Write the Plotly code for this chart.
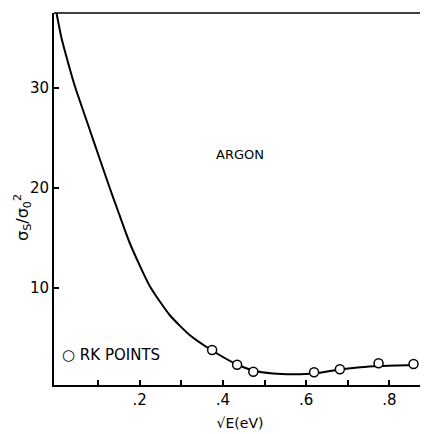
import plotly.graph_objects as go

# Smooth curve
curve_x = [0.0, 0.012, 0.028, 0.044, 0.076, 0.104, 0.128, 0.147, 0.176, 0.224, 0.272,
           0.32, 0.374, 0.434, 0.473, 0.52, 0.57, 0.62, 0.681, 0.73, 0.78, 0.858]
curve_y = [37.5, 35.0, 32.5, 30.2, 26.3, 22.9, 20.0, 17.8, 14.5, 10.2, 7.3,
           5.3, 3.75, 2.35, 1.75, 1.45, 1.38, 1.45, 1.85, 2.08, 2.2, 2.3]

# RK points
rk_x = [0.374, 0.434, 0.473, 0.619, 0.681, 0.774, 0.858]
rk_y = [3.8, 2.33, 1.63, 1.57, 1.87, 2.47, 2.4]

x_tickvals = [0.1, 0.2, 0.3, 0.4, 0.5, 0.6, 0.7, 0.8]
x_ticktext = ["", ".2", "", ".4", "", ".6", "", ".8"]
y_tickvals = [10, 20, 30]
y_ticktext = ["10", "20", "30"]

FONT = "DejaVu Sans"

# The page body has an 8px default margin, so the figure is sized to fit inside it.
W, H = 420, 426
ML, MR, MT, MB = 46, 2, 5, 49

fig = go.Figure()
fig.add_trace(go.Scatter(x=curve_x, y=curve_y, mode="lines",
                         line=dict(color="black", width=2, shape="spline", smoothing=0.6),
                         showlegend=False, hoverinfo="skip"))
fig.add_trace(go.Scatter(x=rk_x, y=rk_y, mode="markers", name="RK POINTS",
                         marker=dict(symbol="circle", size=9, color="white",
                                     line=dict(color="black", width=1.5)),
                         showlegend=False))

plot_w = W - ML - MR
plot_h = H - MT - MB

fig.update_layout(
    width=W, height=H,
    margin=dict(l=ML, r=MR, t=MT, b=MB),
    paper_bgcolor="white", plot_bgcolor="white",
    font=dict(family=FONT, color="black", size=13),
    showlegend=False,
    xaxis=dict(range=[-0.006, 0.888], tickvals=x_tickvals, ticktext=x_ticktext,
               ticks="inside", ticklen=5, tickwidth=1.5, tickcolor="black",
               showline=True, linecolor="black", linewidth=2, mirror=False,
               showgrid=False, zeroline=False, automargin=False,
               tickfont=dict(size=15, family=FONT),
               title=dict(text="√E(eV)", font=dict(size=14, family=FONT), standoff=10)),
    yaxis=dict(range=[0.3, 37.5], tickvals=y_tickvals, ticktext=y_ticktext,
               ticks="inside", ticklen=5, tickwidth=1.5, tickcolor="black",
               showline=True, linecolor="black", linewidth=2, mirror=False,
               showgrid=False, zeroline=False, automargin=False,
               tickfont=dict(size=15, family=FONT)),
    annotations=[
        dict(text="ARGON", x=0.44, y=23.4, xref="x", yref="y",
             showarrow=False, font=dict(size=13, family=FONT, color="black")),
        dict(text="○ RK POINTS", x=(60 - 54) / plot_w, y=3.3, xref="paper", yref="y",
             xanchor="left", showarrow=False,
             font=dict(size=15, family=FONT, color="black")),
        dict(text="σ<sub>S</sub>/σ<sub>0</sub><sup>2</sup>", textangle=-90,
             x=(23 - 54) / plot_w, y=(385 - 218) / plot_h, xref="paper", yref="paper",
             xanchor="center", yanchor="middle", showarrow=False,
             font=dict(size=16, family=FONT, color="black")),
    ],
    shapes=[
        dict(type="line", xref="paper", yref="paper", x0=0, x1=1, y0=1, y1=1,
             line=dict(color="black", width=1.5)),
        dict(type="line", xref="paper", yref="paper", x0=1, x1=1, y0=0, y1=1,
             line=dict(color="#bbbbbb", width=1, dash="dot")),
    ],
)

fig.write_html("out.html")
